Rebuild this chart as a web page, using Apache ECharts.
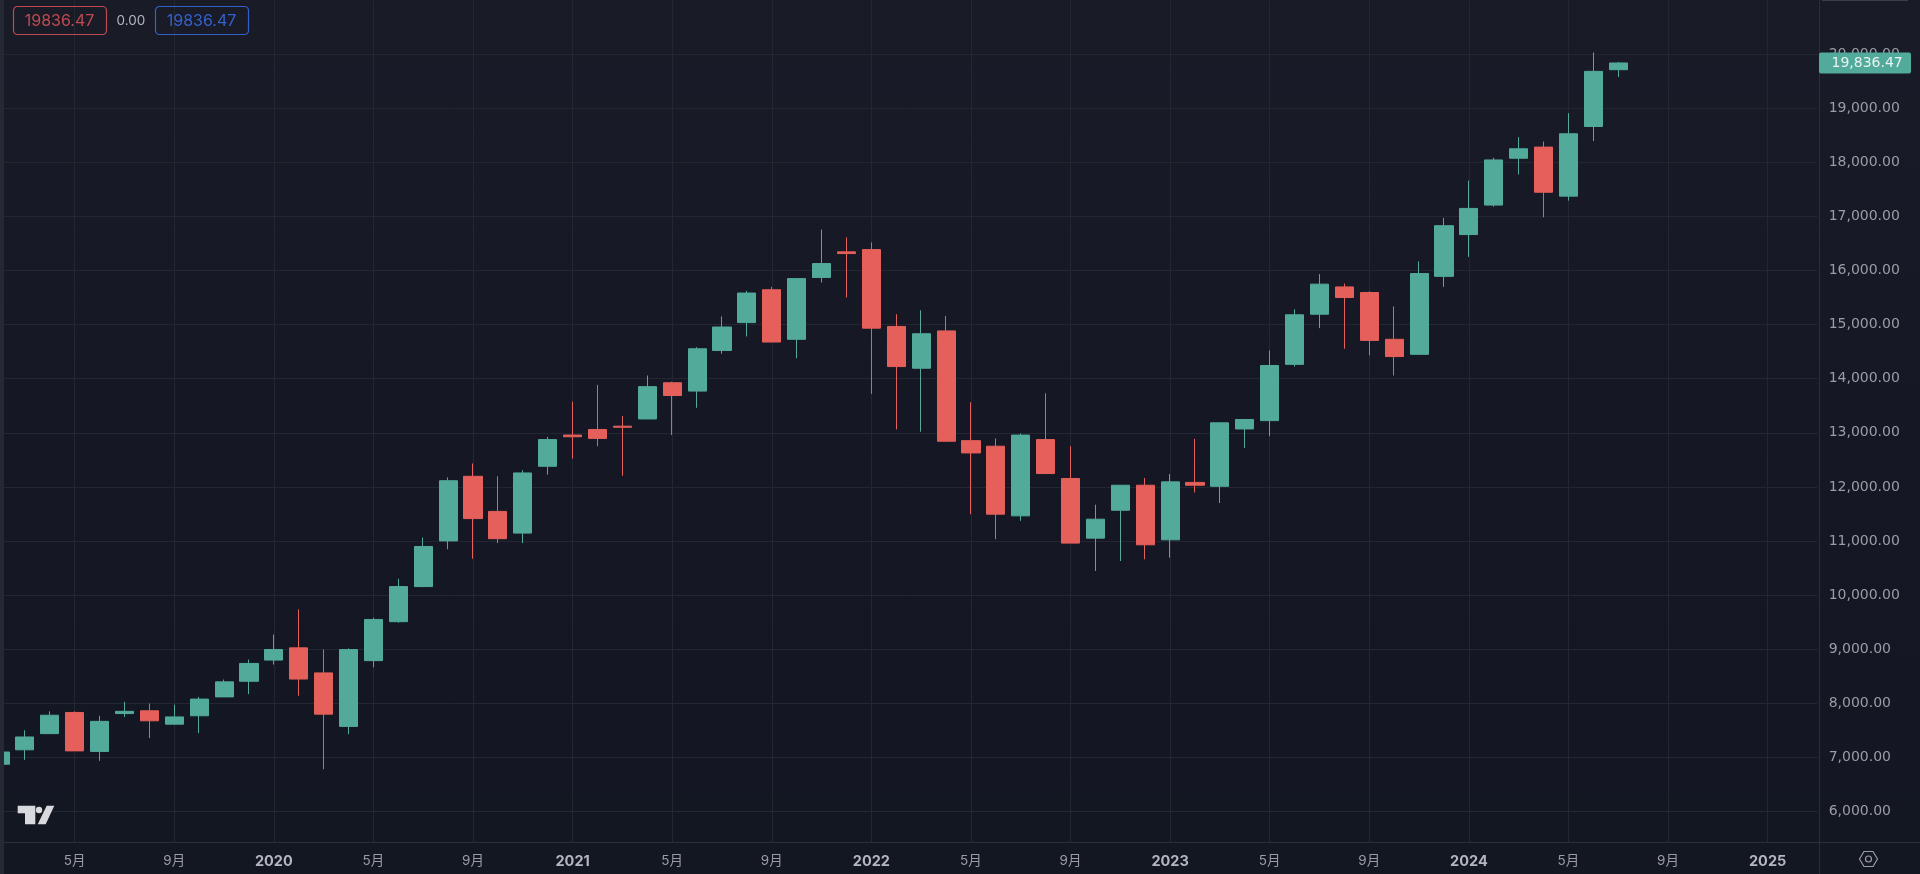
<!DOCTYPE html>
<html>
<head>
<meta charset="utf-8">
<style>
  html, body { margin: 0; height: 100%; background: #141823; overflow: hidden; }
  #chart { width: 1920px; height: 874px; }
</style>
<script src="https://cdn.jsdelivr.net/npm/echarts@6/dist/echarts.min.js"></script>
</head>
<body>
<div id="chart"></div>
<script>
const months = [
  "2019-02","2019-03","2019-04","2019-05","2019-06","2019-07","2019-08","2019-09","2019-10","2019-11","2019-12",
  "2020-01","2020-02","2020-03","2020-04","2020-05","2020-06","2020-07","2020-08","2020-09","2020-10","2020-11","2020-12",
  "2021-01","2021-02","2021-03","2021-04","2021-05","2021-06","2021-07","2021-08","2021-09","2021-10","2021-11","2021-12",
  "2022-01","2022-02","2022-03","2022-04","2022-05","2022-06","2022-07","2022-08","2022-09","2022-10","2022-11","2022-12",
  "2023-01","2023-02","2023-03","2023-04","2023-05","2023-06","2023-07","2023-08","2023-09","2023-10","2023-11","2023-12",
  "2024-01","2024-02","2024-03","2024-04","2024-05","2024-06","2024-07","2024-08","2024-09","2024-10","2024-11","2024-12",
  "2025-01","2025-02","2025-03"
];
const opens = [
  6875,7142,7441,7832,7112,7812,7863,7616,7771,8120,8409,
  8800,9026,8563,7575,8790,9510,10159,11003,12197,11548,11147,12382,
  12959,13062,13123,13257,13926,13772,14523,15038,15645,14729,15872,16345,
  16387,14966,14194,14884,12856,12753,11466,12876,12156,11054,11569,12032,
  11023,12084,12012,13072,13226,14266,15192,15697,15594,14729,14451,15892,
  16665,17210,18075,18281,17375,18662,19712
];
const closes = [
  7101,7379,7781,7122,7668,7853,7678,7750,8079,8398,8738,
  8995,8450,7801,8995,9551,10159,10900,12115,11415,11044,12259,12876,
  12928,12897,13103,13854,13690,14554,14956,15584,14678,15851,16129,16314,
  14935,14225,14832,12845,12629,11497,12959,12248,10962,11404,12032,10931,
  12094,12032,13185,13247,14245,15182,15748,15501,14709,14410,15944,16829,
  17148,18044,18250,17447,18528,19681,19836.47
];
const lows = [
  6875,6957,7441,7122,6937,7750,7359,7606,7451,8120,8172,
  8718,8141,6782,7431,8666,9490,10148,10848,10673,10962,10962,12228,
  12526,12753,12207,13257,12959,13463,14462,14781,14678,14379,15779,15501,
  13720,13062,13020,12845,11497,11034,11373,12248,10962,10447,10632,10663,
  10694,11898,11703,12722,12938,14225,14935,14554,14431,14060,14451,15697,
  16253,17179,17776,16984,17292,18394,19578
];
const highs = [
  7101,7503,7853,7853,7770,8028,7997,7976,8120,8440,8810,
  9273,9737,8995,9016,9582,10303,11065,12176,12434,12197,12310,12928,
  13576,13885,13309,14060,13947,14585,15151,15625,15697,15851,16757,16613,
  16520,15192,15265,15162,13566,12897,12990,13731,12753,11672,12032,12166,
  12238,12887,13185,13247,14523,15285,15934,15759,15614,15337,16170,16973,
  17663,18085,18466,18384,18909,20031,19856
];
const lastClose = 19836.47;
const lastPrice = "19,836.47";
const badgeLow = "19836.47";
const badgeDiff = "0.00";
const badgeHigh = "19836.47";

const up = "#52aa9b";
const down = "#e5605a";
const gridColor = "#232732";
const paneLine = "#2b2f3a";
const textColor = "#9b9da6";
const fontFamily = 'Inter, "Noto Sans CJK SC", sans-serif';
const priceFont = '"DejaVu Sans", sans-serif';

function monthLabel(value) {
  const [year, month] = value.split("-");
  if (month === "01") return `{year|${year}}`;
  return `${Number(month)}月`;
}

function showMonth(index, value) {
  return ["01", "05", "09"].includes(value.split("-")[1]);
}

function badge(left, width, color, text) {
  return [
    {
      type: "rect",
      z: 20,
      shape: { x: left + 0.5, y: 6.5, width, height: 28, r: 4 },
      style: { fill: "transparent", stroke: color, lineWidth: 1.2 },
    },
    {
      type: "text",
      z: 20,
      x: left + width / 2,
      y: 21,
      style: { text, fill: color, font: `16px ${fontFamily}`, textAlign: "center", textVerticalAlign: "middle" },
    },
  ];
}

const chart = echarts.init(document.getElementById("chart"), null, { renderer: "canvas" });
chart.setOption({
  backgroundColor: new echarts.graphic.LinearGradient(0, 0, 0, 1, [
    { offset: 0, color: "#191b27" },
    { offset: 0.5, color: "#151824" },
    { offset: 1, color: "#131722" },
  ]),
  animation: false,
  // first grid carries the month axis, second one the price scale running from 5000 to 21000
  grid: [
    { left: -1, right: 102.57, top: 0, bottom: 32 },
    { left: -1, right: 102.57, top: -0.65, bottom: 8.3 },
  ],
  xAxis: [
    {
      type: "category",
      gridIndex: 0,
      data: months,
      boundaryGap: false,
      axisLine: { show: false },
      axisTick: { show: false },
      axisLabel: {
        interval: showMonth,
        formatter: monthLabel,
        color: textColor,
        fontFamily,
        fontSize: 13.5,
        margin: 12,
        rich: { year: { color: "#b4b6be", fontWeight: 700, fontFamily, fontSize: 14.5 } },
      },
      splitLine: { show: true, interval: showMonth, lineStyle: { color: gridColor, width: 1 } },
    },
    {
      type: "category",
      gridIndex: 1,
      data: months,
      boundaryGap: false,
      show: false,
    },
  ],
  yAxis: [
    {
      type: "value",
      gridIndex: 0,
      show: false,
    },
    {
      type: "value",
      gridIndex: 1,
      position: "right",
      offset: 2.2,
      min: 5000,
      max: 21000,
      interval: 1000,
      axisLine: { show: false },
      axisTick: { show: false },
      axisLabel: {
        color: textColor,
        fontFamily: priceFont,
        fontSize: 14,
        margin: 9,
        showMinLabel: false,
        showMaxLabel: false,
        formatter: (value) => value.toLocaleString("en-US", { minimumFractionDigits: 2, maximumFractionDigits: 2 }),
      },
      splitLine: { show: true, showMinLine: false, showMaxLine: false, lineStyle: { color: gridColor, width: 1 } },
    },
  ],
  series: [{
    type: "candlestick",
    xAxisIndex: 1,
    yAxisIndex: 1,
    barWidth: 18.6,
    data: opens.map((open, i) => [open, closes[i], lows[i], highs[i]]),
    itemStyle: { color: up, color0: down, borderColor: up, borderColor0: down, borderWidth: 1 },
  }],
});

const tagY = chart.convertToPixel({ yAxisIndex: 1 }, lastClose);
chart.setOption({
  graphic: [
    { type: "rect", z: 10, shape: { x: 0, y: 0, width: 4, height: 874 }, style: { fill: "#252934" } },
    { type: "line", z: 10, shape: { x1: 4, y1: 842.5, x2: 1920, y2: 842.5 }, style: { stroke: paneLine, lineWidth: 1 } },
    { type: "line", z: 10, shape: { x1: 1819.5, y1: 0, x2: 1819.5, y2: 874 }, style: { stroke: paneLine, lineWidth: 1 } },
    { type: "rect", z: 10, shape: { x: 1822, y: 0, width: 86, height: 1 }, style: { fill: "#3a3e49" } },
    ...badge(13, 93, "#bf4a50", badgeLow),
    { type: "text", z: 20, x: 131, y: 21, style: { text: badgeDiff, fill: "#b4b6be", font: `13.5px ${fontFamily}`, textAlign: "center", textVerticalAlign: "middle" } },
    ...badge(155, 93, "#3560cc", badgeHigh),
    { type: "rect", z: 20, shape: { x: 1819, y: tagY - 10.5, width: 92, height: 21, r: 2 }, style: { fill: up } },
    { type: "text", z: 21, x: 1831.5, y: tagY, style: { text: lastPrice, fill: "#e9f3f1", font: `14px ${priceFont}`, textVerticalAlign: "middle" } },
    { type: "polygon", z: 20, shape: { points: [[17.7, 805.7], [35.3, 805.7], [35.3, 824.3], [25, 824.3], [25, 813.3], [17.7, 813.3]] }, style: { fill: "#d8d9de" } },
    { type: "circle", z: 20, shape: { cx: 39, cy: 810, r: 3.2 }, style: { fill: "#d8d9de" } },
    { type: "polygon", z: 20, shape: { points: [[46.7, 805.7], [54.3, 805.7], [45.7, 824.3], [37.7, 824.3]] }, style: { fill: "#d8d9de" } },
    { type: "polygon", z: 20, shape: { points: [[1859.5, 859], [1864, 851.5], [1873, 851.5], [1877.5, 859], [1873, 866.5], [1864, 866.5]] }, style: { fill: "transparent", stroke: textColor, lineWidth: 1.2 } },
    { type: "circle", z: 20, shape: { cx: 1868.5, cy: 859, r: 3 }, style: { fill: "transparent", stroke: textColor, lineWidth: 1.2 } },
  ],
});
</script>
</body>
</html>
